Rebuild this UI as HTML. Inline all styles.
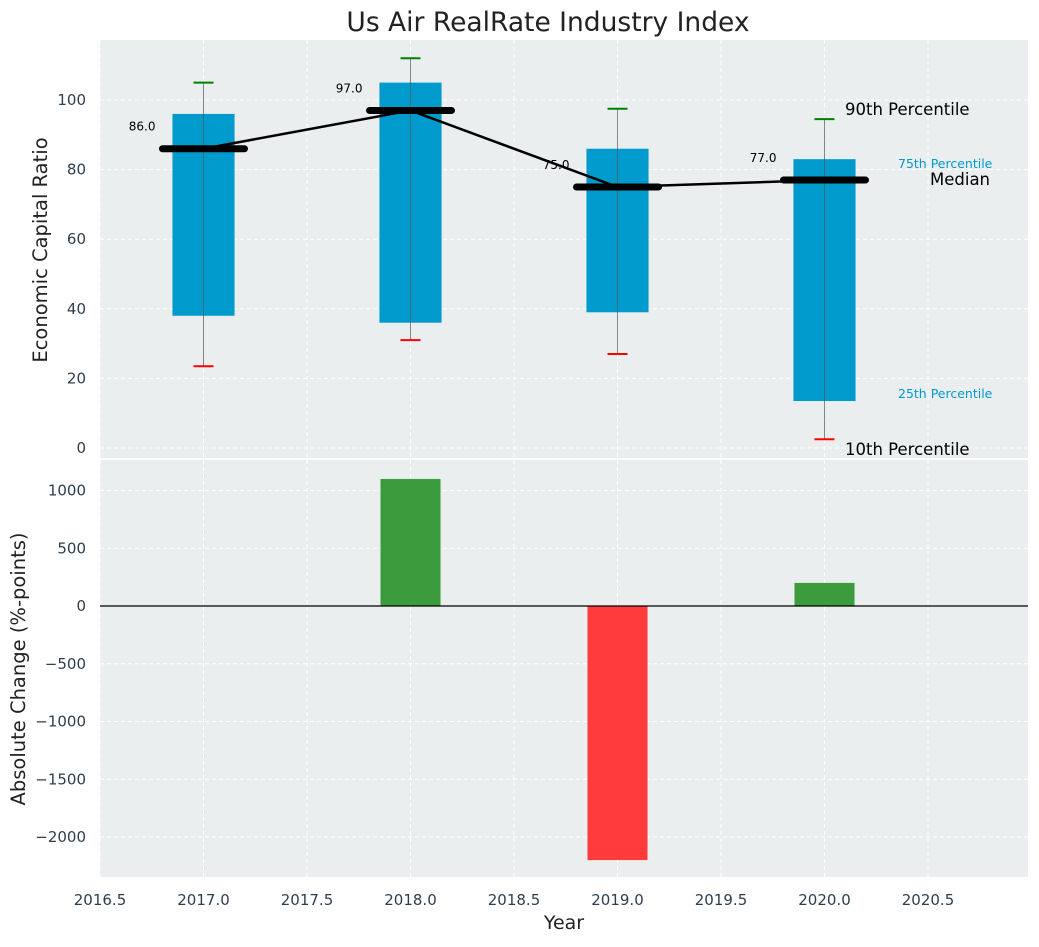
<!DOCTYPE html>
<html><head><meta charset="utf-8"><style>
body{margin:0;background:#fff;font-family:"Liberation Sans","DejaVu Sans",sans-serif}
svg text{font-family:"DejaVu Sans","Liberation Sans",sans-serif}
</style></head><body>
<svg id="c" width="1039" height="942" xmlns="http://www.w3.org/2000/svg"></svg>
<script>
const years=[2017,2018,2019,2020];
const q10=[23.5,31,27,2.5];
const q25=[38,36,39,13.5];
const med=[86,97,75,77];
const q75=[96,105,86,83];
const q90=[105,112,97.5,94.5];
const changes=[0,1100,-2200,200];
const yTicks1=[0,20,40,60,80,100];
const yTicks2=[-2000,-1500,-1000,-500,0,500,1000];
const xTicks=[2016.5,2017,2017.5,2018,2018.5,2019,2019.5,2020,2020.5];

const svg=document.getElementById('c');
const NS='http://www.w3.org/2000/svg';
function el(t,a,p){const e=document.createElementNS(NS,t);for(const k in a)e.setAttribute(k,a[k]);(p||svg).appendChild(e);return e;}
const L=100,R=1028,T1=40,B1=458,T2=460,B2=877;
const x=v=>L+(v-2016.5)*207;
const y1=v=>448-v*3.48;
const y2=v=>606-v*0.1155;

let g=el('g',{});
el('rect',{x:L,y:T1,width:R-L,height:B1-T1,fill:'#eaeeef'},g);
let g2=el('g',{});
el('rect',{x:L,y:T2,width:R-L,height:B2-T2,fill:'#eaeeef'},g2);
xTicks.forEach(v=>{
  el('line',{x1:x(v),x2:x(v),y1:T1,y2:B1,stroke:'#fff','stroke-dasharray':'4,3','stroke-width':1},g);
  el('line',{x1:x(v),x2:x(v),y1:T2,y2:B2,stroke:'#fff','stroke-dasharray':'4,3','stroke-width':1},g2);
  const t=el('text',{x:x(v),y:905,'text-anchor':'middle','font-size':15,fill:'#2d3e50'});t.textContent=v.toFixed(1);
  
});
yTicks1.forEach(v=>{
  el('line',{x1:L,x2:R,y1:y1(v),y2:y1(v),stroke:'#fff','stroke-dasharray':'4,3'},g);
  const t=el('text',{x:86,y:y1(v)+5,'text-anchor':'end','font-size':15,fill:'#2d3e50'});t.textContent=v;
  
});
yTicks2.forEach(v=>{
  el('line',{x1:L,x2:R,y1:y2(v),y2:y2(v),stroke:'#fff','stroke-dasharray':'4,3'},g2);
  const t=el('text',{x:86,y:y2(v)+5,'text-anchor':'end','font-size':15,fill:'#2d3e50'});t.textContent=String(v).replace('-','\u2212');
  
});
years.forEach((yr,i)=>{
  const cx=x(yr),w=0.3*207;
  const r=el('rect',{x:cx-w/2,y:y1(q75[i]),width:w,height:y1(q25[i])-y1(q75[i]),fill:'#009acd'},g);
  
  el('line',{x1:cx,x2:cx,y1:y1(q90[i]),y2:y1(q10[i]),stroke:'#555','stroke-opacity':0.7,'stroke-width':1},g);
  el('line',{x1:cx-10,x2:cx+10,y1:y1(q90[i]),y2:y1(q90[i]),stroke:'green','stroke-width':2},g);
  el('line',{x1:cx-10,x2:cx+10,y1:y1(q10[i]),y2:y1(q10[i]),stroke:'red','stroke-width':2},g);
});
el('polyline',{points:years.map((yr,i)=>x(yr)+','+y1(med[i])).join(' '),fill:'none',stroke:'#000','stroke-width':2.5},g);
years.forEach((yr,i)=>{
  const m=el('line',{x1:x(yr)-41,x2:x(yr)+41,y1:y1(med[i]),y2:y1(med[i]),stroke:'#000','stroke-width':7,'stroke-linecap':'round'},g);
  
  const t=el('text',{x:x(yr)-48,y:y1(med[i])-18,'text-anchor':'end','font-size':12,fill:'#000'});t.textContent=med[i].toFixed(1);
  
});
const ann=[[845,115,16.5,'#000','90th Percentile'],[898,168,12.5,'#009acd','75th Percentile'],[930,185,16.5,'#000','Median'],[898,398,12.5,'#009acd','25th Percentile'],[845,455,16.5,'#000','10th Percentile']];
ann.forEach(a=>{const t=el('text',{x:a[0],y:a[1],'font-size':a[2],fill:a[3]},g);t.textContent=a[4];
  });
years.forEach((yr,i)=>{
  const v=changes[i];if(!v)return;
  const w=0.29*207;
  const b=el('rect',{x:x(yr)-w/2,y:Math.min(y2(0),y2(v)),width:w,height:Math.abs(y2(v)-y2(0)),fill:v>0?'#3c9b3c':'#ff3b3b'},g2);
  
});
el('line',{x1:L,x2:R,y1:y2(0),y2:y2(0),stroke:'#000','stroke-width':1.2},g2);
let t=el('text',{x:548,y:31,'text-anchor':'middle','font-size':26.5,fill:'#222'});t.textContent='Us Air RealRate Industry Index';

t=el('text',{x:564,y:929,'text-anchor':'middle','font-size':19,fill:'#222'});t.textContent='Year';

t=el('text',{x:0,y:0,'text-anchor':'middle','font-size':19.5,fill:'#222',transform:'translate(47,250) rotate(-90)'});t.textContent='Economic Capital Ratio';

t=el('text',{x:0,y:0,'text-anchor':'middle','font-size':19.5,fill:'#222',transform:'translate(25,669) rotate(-90)'});t.textContent='Absolute Change (%-points)';

</script>
</body></html>
